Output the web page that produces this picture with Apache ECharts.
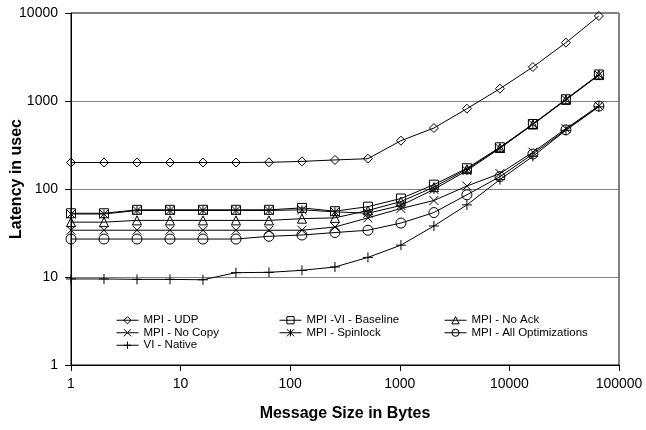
<!DOCTYPE html>
<html>
<head>
<meta charset="utf-8">
<script src="https://cdn.jsdelivr.net/npm/echarts@6/dist/echarts.min.js"></script>
<style>
body { margin: 0; background: #fff; }
#chart { width: 646px; height: 430px; }
</style>
</head>
<body>
<div id="chart"></div>
<script>
// message sizes (bytes)
var sizes = [1, 2, 4, 8, 16, 32, 64, 128, 256, 512, 1024, 2048, 4096, 8192, 16384, 32768, 65536];

// latency in usec
var udp       = [200, 200, 200, 200, 200, 200, 201, 206, 214, 221, 354, 493, 818, 1380, 2434, 4600, 9250];
var baseline  = [53, 53, 58, 58, 58, 58, 58, 61, 56, 63, 78, 112, 172, 298, 548, 1046, 2000];
var noAck     = [42, 42, 44, 44, 44, 44, 44, 46, 47, 57, 72, 105, 168, 292, 540, 1030, 1970];
var noCopy    = [34, 34, 34, 34, 34, 34, 34, 34, 37, 47, 60, 74, 108, 150, 262, 485, 880];
var spinlock  = [52, 52, 57, 57, 57, 57, 57, 58, 55, 53, 65, 99, 162, 290, 545, 1040, 1980];
var allOpt    = [27, 27, 27, 27, 27, 27, 29, 30, 32, 34, 41, 54, 86, 138, 250, 470, 875];
var viNative  = [9.5, 9.5, 9.4, 9.4, 9.3, 11.2, 11.3, 11.9, 13, 16.7, 23, 38, 66, 128, 235, 465, 860];

var names = ['MPI - UDP', 'MPI -VI - Baseline', 'MPI - No Ack', 'MPI - No Copy',
             'MPI - Spinlock', 'MPI - All Optimizations', 'VI - Native'];

// outline-only markers
var symbols = [
    'path://M5,0L10,5L5,10L0,5Z',
    'path://M0,0L10,0L10,10L0,10Z',
    'path://M5,0L10,9L0,9Z',
    'path://M0,0L10,10M10,0L0,10',
    'path://M0,0L10,10M10,0L0,10M5,0L5,10',
    'path://M0,5A5,5,0,1,1,10,5A5,5,0,1,1,0,5Z',
    'path://M5,0L5,10M0,5L10,5'
];
var symSizes = [[9, 9], [9, 9], [9, 9], [9, 9], [9, 9], [10, 10], [10, 10]];

function pairs(vals) {
    var out = [];
    for (var i = 0; i < sizes.length; i++) out.push([sizes[i], vals[i]]);
    return out;
}

var allData = [udp, baseline, noAck, noCopy, spinlock, allOpt, viNative];
var series = [];
for (var i = 0; i < allData.length; i++) {
    series.push({
        name: names[i],
        type: 'line',
        data: pairs(allData[i]),
        symbol: symbols[i],
        symbolSize: symSizes[i],
        showAllSymbol: true,
        lineStyle: { color: '#000', width: 1 },
        itemStyle: { color: 'rgba(0,0,0,0)', borderColor: '#000', borderWidth: 1 },
        emphasis: { disabled: true }
    });
}

var font = 'Liberation Sans, Arial, sans-serif';
function legendCol(left, data) {
    return {
        orient: 'vertical',
        left: left,
        top: 309,
        itemGap: 0,
        itemWidth: 22,
        itemHeight: 9,
        selectedMode: false,
        data: data,
        itemStyle: { color: 'rgba(0,0,0,0)', borderColor: '#000', borderWidth: 1 },
        lineStyle: { color: '#000', width: 1 },
        textStyle: { fontFamily: font, fontSize: 11.5, color: '#000', lineHeight: 12.5 }
    };
}

function plain(v) { return String(Math.round(v)); }

var myChart = echarts.init(document.getElementById('chart'));
var option = {
    animation: false,
    backgroundColor: '#fff',
    grid: { left: 71, right: 27, top: 13, bottom: 65, containLabel: false, outerBoundsMode: 'none',
            show: true, borderColor: '#000', borderWidth: 1 },
    legend: [
        legendCol(111, [names[0], names[3], names[6]]),
        legendCol(274, [names[1], names[4]]),
        legendCol(439, [names[2], names[5]])
    ],
    xAxis: {
        type: 'log',
        logBase: 10,
        min: 1,
        max: 100000,
        name: 'Message Size in Bytes',
        nameLocation: 'middle',
        nameGap: 41,
        nameMoveOverlap: false,
        nameTextStyle: { fontFamily: font, fontSize: 16, fontWeight: 'bold', color: '#000' },
        axisLine: { lineStyle: { color: '#000', width: 1 } },
        axisTick: { inside: false, length: 6, lineStyle: { color: '#000' } },
        axisLabel: { fontFamily: font, fontSize: 14, color: '#000', margin: 12, formatter: plain },
        splitLine: { show: false },
        minorTick: { show: false }
    },
    yAxis: {
        type: 'log',
        logBase: 10,
        min: 1,
        max: 10000,
        name: 'Latency in usec',
        nameLocation: 'middle',
        nameGap: 46,
        nameMoveOverlap: false,
        nameTextStyle: { fontFamily: font, fontSize: 16, fontWeight: 'bold', color: '#000', padding: [0, 0, 0, 20] },
        axisLine: { lineStyle: { color: '#000', width: 1 } },
        axisTick: { inside: false, length: 6, lineStyle: { color: '#000' } },
        axisLabel: { fontFamily: font, fontSize: 14, color: '#000', margin: 13, formatter: plain },
        splitLine: { show: true, lineStyle: { color: '#808080', width: 1 } }
    },
    series: series
};
myChart.setOption(option);
</script>
</body>
</html>
